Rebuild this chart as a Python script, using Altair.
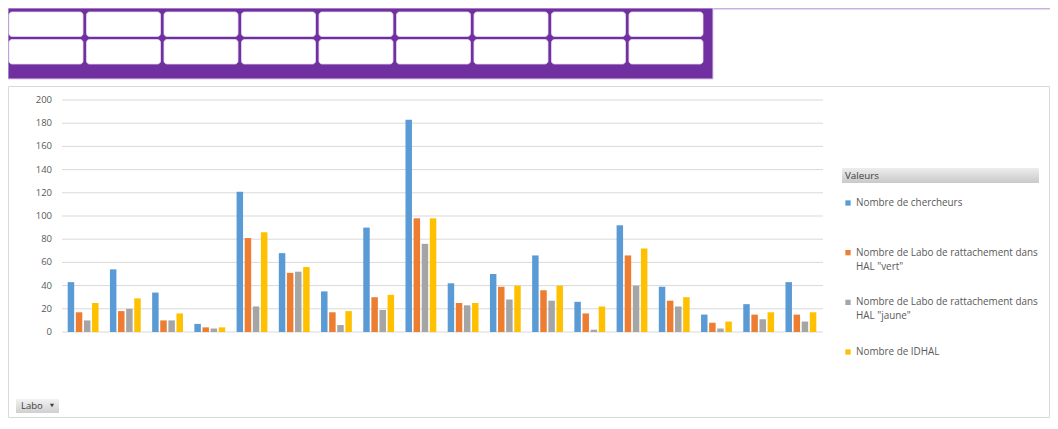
import altair as alt
import pandas as pd

# ---------------- data ----------------
labos = [f"Labo {i:02d}" for i in range(1, 19)]
series = [
    "Nombre de chercheurs",
    'Nombre de Labo de rattachement dans HAL "vert"',
    'Nombre de Labo de rattachement dans HAL "jaune"',
    "Nombre de IDHAL",
]
legend_line1 = [
    "Nombre de chercheurs",
    "Nombre de Labo de rattachement dans",
    "Nombre de Labo de rattachement dans",
    "Nombre de IDHAL",
]
legend_line2 = ["", 'HAL "vert"', 'HAL "jaune"', ""]
colors = ["#5B9BD5", "#ED7D31", "#A5A5A5", "#FFC000"]

chercheurs = [43, 54, 34, 7, 121, 68, 35, 90, 183, 42, 50, 66, 26, 92, 39, 15, 24, 43]
vert = [17, 18, 10, 4, 81, 51, 17, 30, 98, 25, 39, 36, 16, 66, 27, 8, 15, 15]
jaune = [10, 20, 10, 3, 22, 52, 6, 19, 76, 23, 28, 27, 2, 40, 22, 3, 11, 9]
idhal = [25, 29, 16, 4, 86, 56, 18, 32, 98, 25, 40, 40, 22, 72, 30, 9, 17, 17]

y_ticks = [0, 20, 40, 60, 80, 100, 120, 140, 160, 180, 200]
slicer_cols = list(range(9))
slicer_rows = [0, 1]

# ---------------- tables ----------------
rows = []
for s, vals in zip(series, [chercheurs, vert, jaune, idhal]):
    for l, v in zip(labos, vals):
        rows.append({"labo": l, "serie": s, "valeur": v})
df = pd.DataFrame(rows)
ticks_df = pd.DataFrame({"v": y_ticks})
legend_df = pd.DataFrame({"serie": series, "l1": legend_line1, "l2": legend_line2})
cells_df = pd.DataFrame([{"col": c, "row": r} for r in slicer_rows for c in slicer_cols])
one = pd.DataFrame({"a": [0]})

FONT = "Open Sans"
TXT = "#595959"

yscale = alt.Scale(domain=[0, 200], range=[324, 92], nice=False, zero=True)
color_scale = alt.Scale(domain=series, range=colors)

# ---------------- decorations ----------------
border = alt.Chart(one).mark_rect(fill="white", stroke="#D9D9D9", strokeWidth=1).encode(
    x=alt.value(0.5), x2=alt.value(1041.5), y=alt.value(78.5), y2=alt.value(409.5)
)
top_line = alt.Chart(one).mark_rule(color="#C9B1E0", strokeWidth=1.5).encode(
    x=alt.value(705), x2=alt.value(1042), y=alt.value(0.75)
)
header = alt.Chart(one).mark_rect(fill="#7030A0", stroke="#DCCAEE", strokeWidth=1).encode(
    x=alt.value(0), x2=alt.value(705), y=alt.value(0), y2=alt.value(71)
)
buttons = alt.Chart(cells_df).mark_rect(
    fill="white", cornerRadius=3, stroke="#E6DAF2", strokeWidth=0.8
).encode(
    x=alt.X("col:O", scale=alt.Scale(range=[1, 695], paddingInner=0.045, paddingOuter=0), axis=None),
    y=alt.Y("row:O", scale=alt.Scale(range=[4, 56], paddingInner=0.11, paddingOuter=0), axis=None),
)

# ---------------- grid & y labels ----------------
grid = alt.Chart(ticks_df).mark_rule(color="#D9D9D9", strokeWidth=1).encode(
    y=alt.Y("v:Q", scale=yscale, axis=None), x=alt.value(54), x2=alt.value(815)
)
ylabels = alt.Chart(ticks_df).mark_text(
    align="right", baseline="middle", font=FONT, fontSize=9.5, color=TXT
).encode(y=alt.Y("v:Q", scale=yscale, axis=None), x=alt.value(44), text=alt.Text("v:Q"))

# ---------------- bars ----------------
bars = alt.Chart(df).mark_bar().encode(
    x=alt.X("labo:N", sort=labos,
            scale=alt.Scale(range=[54, 814], paddingInner=0.27, paddingOuter=0.135), axis=None),
    xOffset=alt.XOffset("serie:N", sort=series, scale=alt.Scale(domain=series, paddingInner=0.2)),
    y=alt.Y("valeur:Q", scale=yscale, axis=None),
    color=alt.Color("serie:N", scale=color_scale, legend=None),
)

# ---------------- legend ----------------
grad_hdr = alt.Gradient(
    gradient="linear", x1=0, y1=0, x2=0, y2=1,
    stops=[alt.GradientStop(color="#EDEDED", offset=0), alt.GradientStop(color="#C9C9C9", offset=1)],
)
leg_hdr = alt.Chart(one).mark_rect(fill=grad_hdr).encode(
    x=alt.value(834), x2=alt.value(1031), y=alt.value(160), y2=alt.value(175)
)
leg_hdr_txt = alt.Chart(one).mark_text(
    text="Valeurs", align="left", baseline="middle", font=FONT, fontSize=9.8, color="#404040"
).encode(x=alt.value(837), y=alt.value(167.5))

leg_y = alt.Y("serie:N", sort=series,
              scale=alt.Scale(type="point", domain=series, range=[195, 344], padding=0), axis=None)
leg_sym = alt.Chart(legend_df).mark_square(size=28, opacity=1).encode(
    x=alt.value(840), y=leg_y, color=alt.Color("serie:N", scale=color_scale, legend=None)
)
leg_t1 = alt.Chart(legend_df).mark_text(
    align="left", baseline="middle", font=FONT, fontSize=9.9, color=TXT
).encode(x=alt.value(848), y=leg_y, text="l1:N")
leg_t2 = alt.Chart(legend_df).mark_text(
    align="left", baseline="middle", font=FONT, fontSize=9.9, color=TXT, dy=14
).encode(x=alt.value(848), y=leg_y, text="l2:N")

# ---------------- Labo button ----------------
grad_btn = alt.Gradient(
    gradient="linear", x1=0, y1=0, x2=0, y2=1,
    stops=[alt.GradientStop(color="#F2F2F2", offset=0), alt.GradientStop(color="#CFCFCF", offset=1)],
)
labo_btn = alt.Chart(one).mark_rect(fill=grad_btn).encode(
    x=alt.value(8), x2=alt.value(51), y=alt.value(391), y2=alt.value(405)
)
labo_txt = alt.Chart(one).mark_text(
    text="Labo", align="left", baseline="middle", font=FONT, fontSize=9.5, color="#404040"
).encode(x=alt.value(13), y=alt.value(398))
labo_tri = alt.Chart(one).mark_point(shape="triangle-down", filled=True, size=18, color="#404040", opacity=1).encode(
    x=alt.value(44), y=alt.value(397.5)
)

chart = alt.layer(
    border, top_line, header, buttons, grid, ylabels, bars,
    leg_hdr, leg_hdr_txt, leg_sym, leg_t1, leg_t2, labo_btn, labo_txt, labo_tri,
).resolve_scale(
    x="independent", y="independent"
).properties(
    width=1042, height=410, autosize=alt.AutoSizeParams(type="none"), padding=0
).configure_view(stroke=None)

chart.save("out.html", embed_options={"renderer": "svg", "actions": False})
